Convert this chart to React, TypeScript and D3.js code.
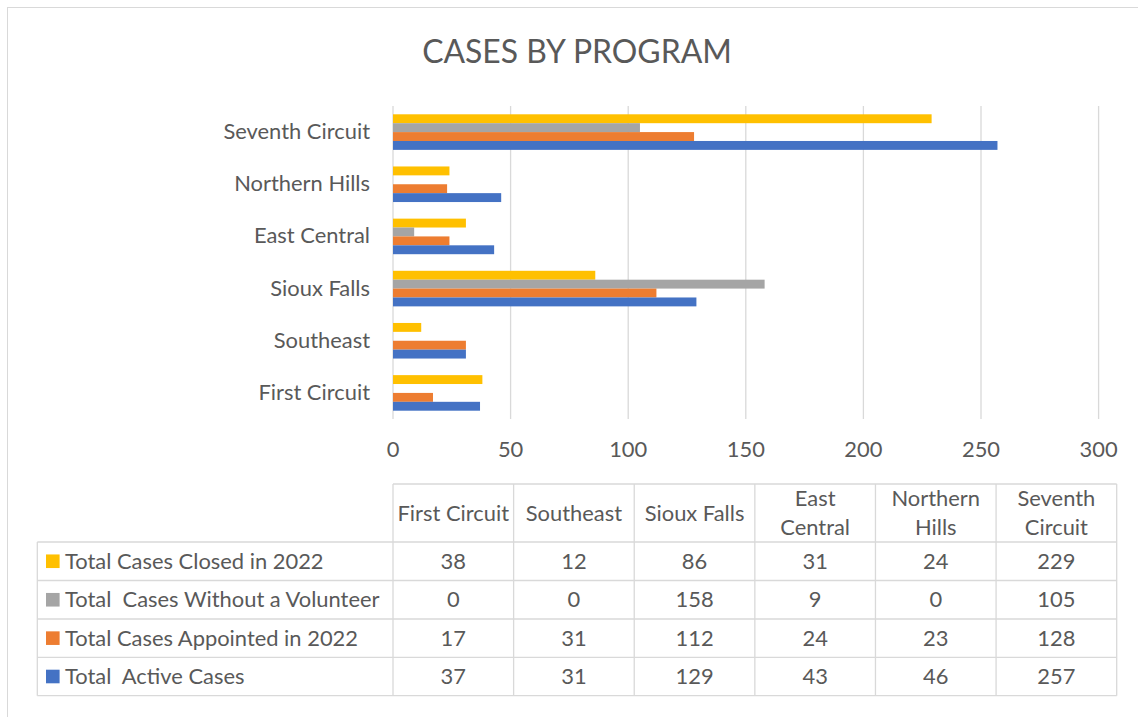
import { useEffect, useRef } from "react";
import * as d3 from "d3";

const width = 1138;
const height = 717;

// categories as they appear in the table (left to right)
const programs = ["First Circuit", "Southeast", "Sioux Falls", "East Central", "Northern Hills", "Seventh Circuit"];
const headerLines = [["First Circuit"], ["Southeast"], ["Sioux Falls"], ["East", "Central"], ["Northern", "Hills"], ["Seventh", "Circuit"]];

const seriesNames = ["Total Cases Closed in 2022", "Total  Cases Without a Volunteer", "Total Cases Appointed in 2022", "Total  Active Cases"];
const seriesColors = ["#FFC000", "#A5A5A5", "#ED7D31", "#4472C4"];

const closed = [38, 12, 86, 31, 24, 229];
const withoutVolunteer = [0, 0, 158, 9, 0, 105];
const appointed = [17, 31, 112, 24, 23, 128];
const active = [37, 31, 129, 43, 46, 257];
const seriesValues = [closed, withoutVolunteer, appointed, active];

const xTicks = [0, 50, 100, 150, 200, 250, 300];

const font = "Lato, Carlito, Calibri, sans-serif";
const fs = 21.9;
const textColor = "#595959";
const lineColor = "#D9D9D9";

const App = () => {
  const chartRef = useRef<SVGSVGElement>(null);

  useEffect(() => {
    const svg = d3.select(chartRef.current);
    svg.selectAll("*").remove();

    // outer chart border (runs off the picture on the right and bottom)
    svg.append("rect")
      .attr("x", 7.5).attr("y", 7.5)
      .attr("width", width + 20).attr("height", height + 20)
      .attr("fill", "#fff").attr("stroke", lineColor).attr("stroke-width", 1);

    svg.append("text")
      .attr("x", 577).attr("y", 63)
      .attr("text-anchor", "middle")
      .attr("font-family", font).attr("font-size", 31.9)
      .attr("fill", textColor)
      .text("CASES BY PROGRAM");

    const x = d3.scaleLinear().domain([0, 300]).range([393, 1098.6]);
    // top of chart is the last program
    const y = d3.scaleBand<string>()
      .domain([...programs].reverse())
      .range([106, 419])
      .paddingInner(0.318)
      .paddingOuter(0.159);
    const ys = d3.scaleBand<number>()
      .domain(d3.range(seriesNames.length))
      .range([0, y.bandwidth()]);

    // gridlines
    svg.append("g").selectAll("line")
      .data(xTicks)
      .enter().append("line")
      .attr("x1", d => x(d)).attr("x2", d => x(d))
      .attr("y1", 106).attr("y2", 419)
      .attr("stroke", lineColor).attr("stroke-width", 1.3);

    svg.append("g").selectAll("text")
      .data(xTicks)
      .enter().append("text")
      .attr("x", d => x(d)).attr("y", 457)
      .attr("text-anchor", "middle")
      .attr("font-family", font).attr("font-size", fs)
      .attr("fill", textColor)
      .text(d => d);

    // bars
    const groups = svg.append("g").selectAll("g")
      .data(programs)
      .enter().append("g")
      .attr("transform", d => `translate(0,${y(d)})`);

    groups.selectAll("rect")
      .data((p, i) => seriesValues.map((vals, s) => ({ s, v: vals[i] })))
      .enter().append("rect")
      .attr("x", x(0))
      .attr("y", d => ys(d.s)!)
      .attr("width", d => x(d.v) - x(0))
      .attr("height", ys.bandwidth())
      .attr("fill", d => seriesColors[d.s]);

    // category labels
    svg.append("g").selectAll("text")
      .data(programs)
      .enter().append("text")
      .attr("x", 370)
      .attr("y", d => y(d)! + y.bandwidth() / 2 + 7)
      .attr("text-anchor", "end")
      .attr("font-family", font).attr("font-size", fs)
      .attr("fill", textColor)
      .text(d => d);

    // data table
    const col = d3.scaleBand<string>().domain(programs).range([393, 1116.7]);
    const rowTops = [542, 580.5, 619, 657.3, 695.7];
    const headTop = 484;
    const table = svg.append("g")
      .attr("stroke", lineColor).attr("stroke-width", 1.3).attr("fill", "none");

    table.append("line").attr("x1", 393).attr("x2", 1116.7).attr("y1", headTop).attr("y2", headTop);
    rowTops.forEach(t => {
      table.append("line").attr("x1", 37.3).attr("x2", 1116.7).attr("y1", t).attr("y2", t);
    });
    table.append("line").attr("x1", 37.3).attr("x2", 37.3).attr("y1", rowTops[0]).attr("y2", rowTops[4]);
    [...programs.map(p => col(p)!), 1116.7].forEach(cx => {
      table.append("line").attr("x1", cx).attr("x2", cx).attr("y1", headTop).attr("y2", rowTops[4]);
    });

    // header labels
    programs.forEach((p, i) => {
      const lines = headerLines[i];
      const cx = col(p)! + col.bandwidth() / 2;
      const mid = (headTop + rowTops[0]) / 2;
      lines.forEach((ln, j) => {
        svg.append("text")
          .attr("x", cx)
          .attr("y", mid + 7.5 + (j - (lines.length - 1) / 2) * 29)
          .attr("text-anchor", "middle")
          .attr("font-family", font).attr("font-size", fs)
          .attr("fill", textColor)
          .text(ln);
      });
    });

    // legend rows and values
    seriesNames.forEach((name, s) => {
      const mid = (rowTops[s] + rowTops[s + 1]) / 2;
      svg.append("rect")
        .attr("x", 46).attr("y", mid - 6.8)
        .attr("width", 13.6).attr("height", 13.6)
        .attr("fill", seriesColors[s]);
      svg.append("text")
        .attr("x", 65).attr("y", mid + 7.5)
        .attr("font-family", font).attr("font-size", fs)
        .attr("fill", textColor)
        .attr("xml:space", "preserve")
        .style("white-space", "pre")
        .text(name);
      programs.forEach((p, i) => {
        svg.append("text")
          .attr("x", col(p)! + col.bandwidth() / 2)
          .attr("y", mid + 7.5)
          .attr("text-anchor", "middle")
          .attr("font-family", font).attr("font-size", fs)
          .attr("fill", textColor)
          .text(seriesValues[s][i]);
      });
    });
  }, []);

  return (
    <svg
      ref={chartRef}
      width={width}
      height={height}
      style={{ position: "absolute", left: 0, top: 0, display: "block" }}
    ></svg>
  );
};

export default App;
